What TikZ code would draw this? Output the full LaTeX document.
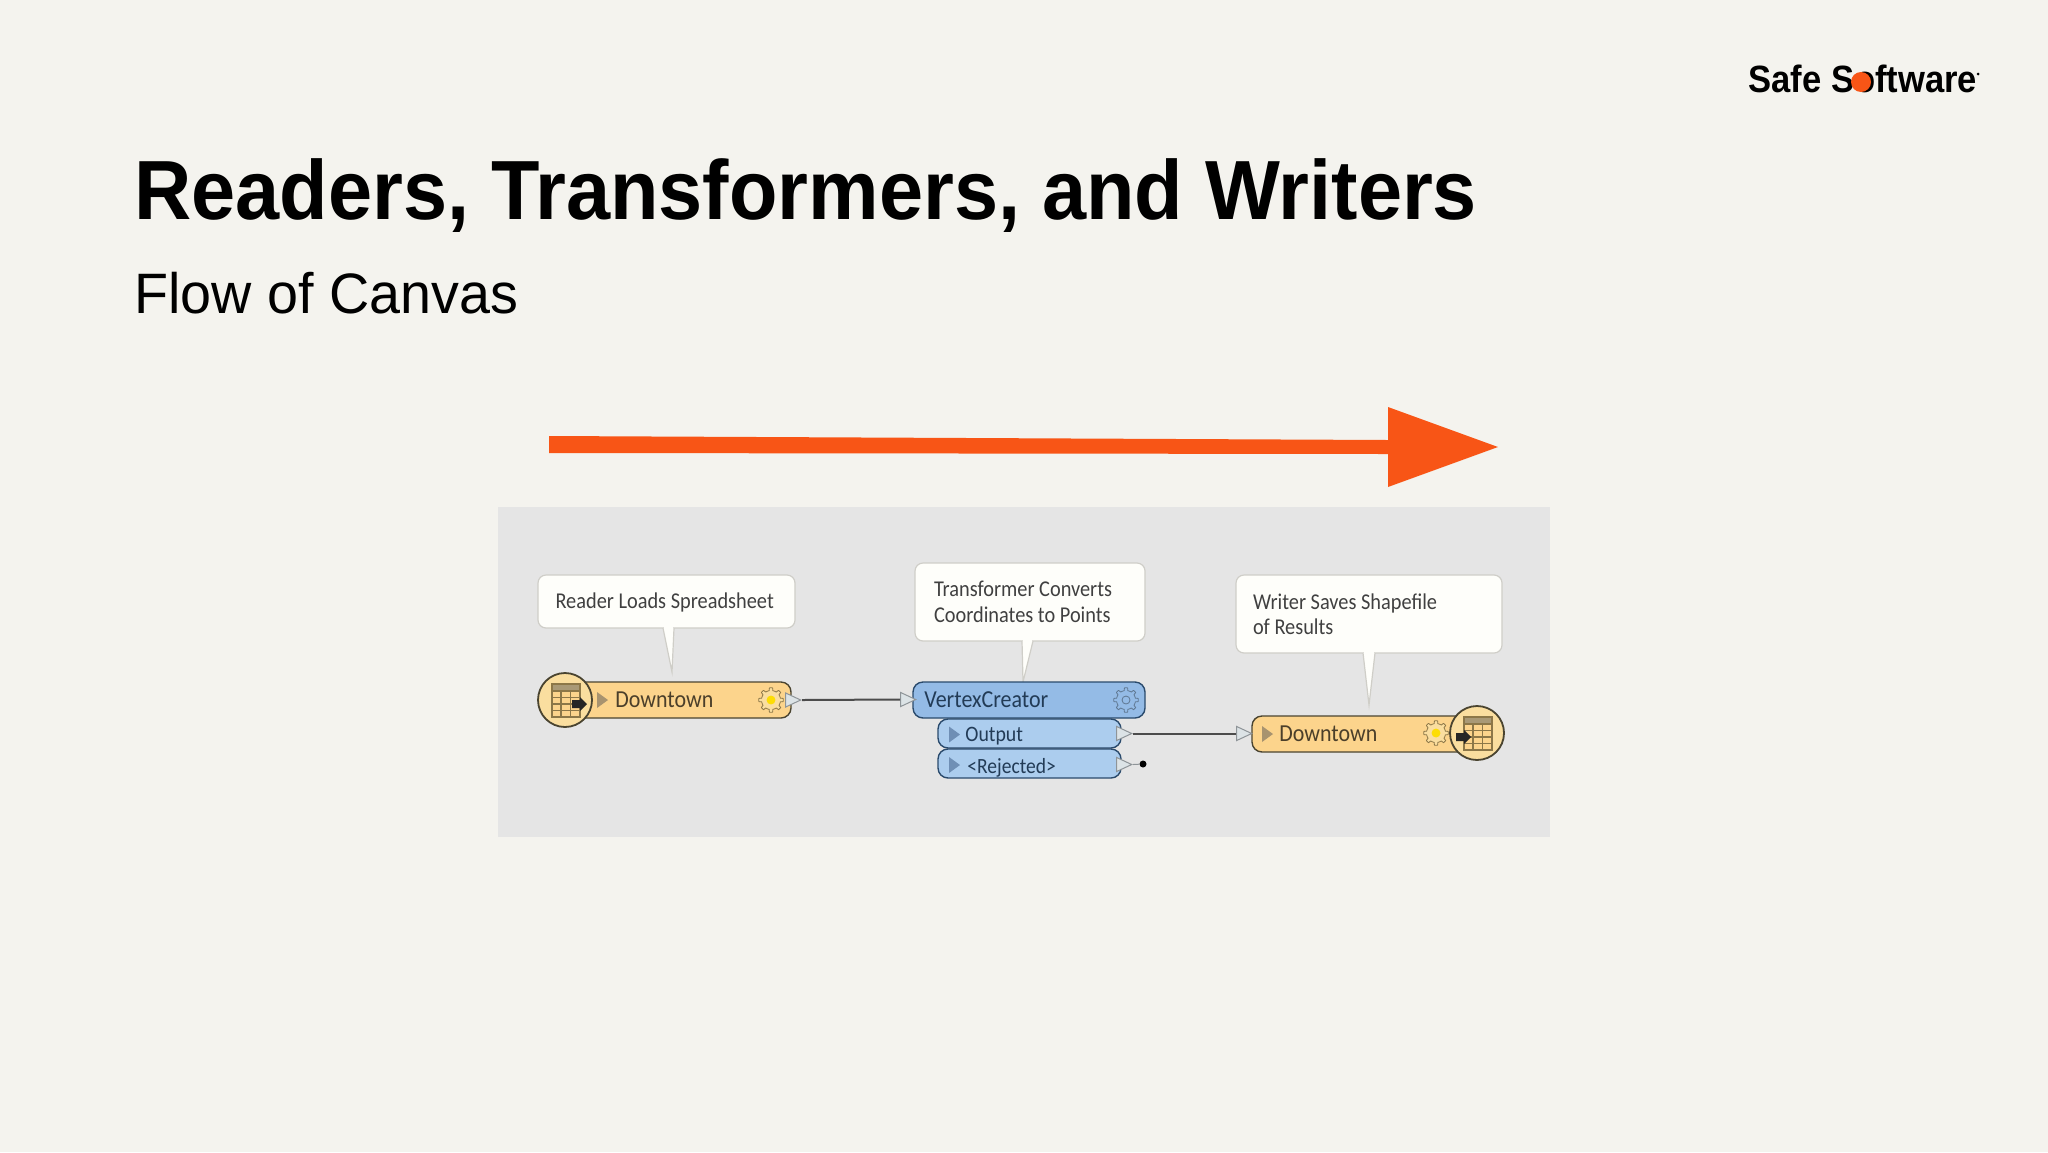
\documentclass[tikz,border=0pt]{standalone}
\usepackage{fontspec}
\setmainfont{Liberation Sans}
\newfontfamily\uifont[FakeStretch=0.9]{Carlito}
\usetikzlibrary{shapes.geometric,shapes.misc}
\definecolor{pagebg}{HTML}{F4F3EE}
\definecolor{panelbg}{HTML}{E5E5E5}
\definecolor{flow}{HTML}{F85516}
\definecolor{notefill}{HTML}{FEFEFA}
\definecolor{noteline}{HTML}{CFCEC8}
\definecolor{tan}{HTML}{FCD48C}
\definecolor{tanlight}{HTML}{FADE9F}
\definecolor{tanline}{HTML}{4A4430}
\definecolor{blue}{HTML}{94BBE6}
\definecolor{bluelight}{HTML}{ACCDEE}
\definecolor{blueline}{HTML}{2A4A6C}
\definecolor{icon}{HTML}{8C7748}
\definecolor{tritan}{HTML}{A8936F}
\definecolor{triblue}{HTML}{6F8FB5}
\definecolor{portfill}{HTML}{DCE3E6}
\definecolor{portline}{HTML}{8E9498}
\tikzset{
  x=0.5pt,y=-0.5pt,
  titletext/.style={font=\fontsize{42}{48}\selectfont\bfseries,anchor=base west,inner sep=0,text=black},
  subtext/.style={font=\fontsize{28.5}{34}\selectfont,anchor=base west,inner sep=0,text=black},
  logotext/.style={font=\fontsize{19}{22}\selectfont\bfseries,anchor=base west,inner sep=0,text=black},
  notebox/.style={draw=noteline,line width=0.6pt,fill=notefill,rounded corners=4pt,inner sep=0,
    font=\uifont\fontsize{11.3}{12.75}\selectfont,align=flush left,text=black!75},
  notetip/.style={draw=noteline,line width=0.6pt,fill=notefill},
  tanbody/.style={draw=tanline,line width=0.7pt,fill=tan,rounded corners=5pt,minimum height=18pt,inner sep=0},
  bluebody/.style={draw=blueline,line width=0.7pt,fill=blue,rounded corners=5pt,minimum height=18pt,inner sep=0},
  subbody/.style={draw=blueline,line width=0.7pt,fill=bluelight,rounded corners=5pt,minimum height=14.5pt,inner sep=0},
  badge/.style={circle,draw=tanline,line width=0.9pt,fill=tanlight,minimum size=27pt,inner sep=0},
  label/.style={inner sep=0,anchor=mid west,font=\uifont\fontsize{12.2}{14}\selectfont},
  port/.style={isosceles triangle,isosceles triangle stretches,draw=portline,fill=portfill,line width=0.5pt,
    minimum width=7pt,minimum height=7.5pt,inner sep=0,shape border rotate=0},
  wire/.style={draw=black!70,line width=1pt},
}
\newcommand{\gearicon}[6]{%
  \begin{scope}[shift={(#1,#2)}]
    \draw[draw=#4,fill=#3,line width=0.4pt,line join=round]
      plot[domain=0:360,samples=97] (\x:{9.5+2.7*(cos(8*\x)>0)}) -- cycle;
    \draw[draw=#6,fill=#5,line width=0.4pt] (0,0) circle[radius=4];
  \end{scope}}
\newcommand{\playtri}[3]{\fill[#3] (#1,#2-8) -- (#1+11,#2) -- (#1,#2+8) -- cycle;}
\newcommand{\tableicon}[2]{%
  \begin{scope}[shift={(#1,#2)}]
    \fill[tan] (0,0) rectangle (28,33);
    \fill[icon!75] (0,0) rectangle (28,7);
    \draw[icon,line width=0.8pt] (0,0) rectangle (28,33);
    \foreach \r in {7,13.5,20,26.5} {\draw[icon,line width=0.7pt] (0,\r) -- (28,\r);}
    \foreach \c in {9,18.5} {\draw[icon,line width=0.7pt] (\c,7) -- (\c,33);}
  \end{scope}}
\newcommand{\blockarrow}[2]{%
  \fill[black!85] (#1,#2-4) -- (#1+8,#2-4) -- (#1+8,#2-7) -- (#1+15,#2) -- (#1+8,#2+7) -- (#1+8,#2+4) -- (#1,#2+4) -- cycle;}
\begin{document}
\begin{tikzpicture}
\useasboundingbox (0,0) rectangle (2048,1152);
\fill[pagebg] (0,0) rectangle (2048,1152);

% headings
\node[titletext] (title) at (134,219) {\scalebox{0.944}[1]{Readers, Transformers, and Writers}};
\node[subtext] (subtitle) at (134,313) {\scalebox{0.977}[1]{Flow of Canvas}};
\node[logotext] (logo) at (1748,92) {\scalebox{0.91}[1]{Safe Software}};
\fill[flow] (1861,82) circle[radius=10];
\fill[black] (1978,74) circle[radius=1.5];

% flow arrow
\fill[flow] (549,436) -- (1388,440) -- (1388,407) -- (1498,447) -- (1388,487) -- (1388,454) -- (549,453) -- cycle;

% canvas panel
\fill[panelbg] (498,507) rectangle (1550,837);

% annotations
\node[notebox,minimum width=128.5pt,minimum height=26.5pt,text width=111pt] (noteR) at (666.5,601.5) {\raisebox{-3.5pt}[0pt][0pt]{Reader Loads Spreadsheet}};
\node[notebox,minimum width=115pt,minimum height=39pt,text width=96pt] (noteT) at (1030,602) {Transformer Converts\\Coordinates to Points};
\node[notebox,minimum width=133pt,minimum height=39pt,text width=116pt] (noteW) at (1369,614) {Writer Saves Shapefile\\of Results};
\draw[notetip] (663,628) -- (672,672) -- (674,628);
\fill[notefill] (664,626) rectangle (673,629);
\draw[notetip] (1022,641) -- (1023,682) -- (1033,641);
\fill[notefill] (1023,639) rectangle (1032,642);
\draw[notetip] (1363,653) -- (1369,705) -- (1375,653);
\fill[notefill] (1364,651) rectangle (1374,654);

% bodies
\node[tanbody,minimum width=113pt] (readerbody) at (678,700) {};
\node[bluebody,minimum width=116pt] (vertex) at (1029,700) {};
\node[subbody,minimum width=91.5pt] (output) at (1029.5,733.5) {};
\node[subbody,minimum width=91.5pt] (rejected) at (1029.5,763.5) {};
\node[tanbody,minimum width=112pt] (writerbody) at (1364,734) {};
\node[badge] (readerbadge) at (565,700) {};
\node[badge] (writerbadge) at (1477,733) {};

% icons
\tableicon{552}{684}
\blockarrow{572}{704}
\tableicon{1464}{717}
\blockarrow{1456}{737}
\playtri{597}{700}{tritan}
\playtri{1262}{734}{tritan}
\playtri{949}{734.5}{triblue}
\playtri{949}{765}{triblue}
\gearicon{771}{700}{tanlight}{icon}{yellow!80!orange}{yellow!80!orange}
\gearicon{1436}{733}{tanlight}{icon}{yellow!80!orange}{yellow!80!orange}
\gearicon{1126}{700}{blue}{blueline!75}{blue}{blueline!75}

% ports
\node[port,anchor=apex] (rout) at (802,700) {};
\node[port,anchor=apex] (vin) at (917,699.5) {};
\node[port,anchor=apex] (oout) at (1133,733.5) {};
\node[port,anchor=apex] (rjout) at (1133,764.5) {};
\node[port,anchor=apex] (win) at (1253,733.5) {};
\node[circle,fill=black,minimum size=3.5pt,inner sep=0] (rjdot) at (1143,764) {};
\draw[wire] (rout.apex) -- (vin.lower side);
\draw[wire] (oout.apex) -- (win.lower side);
\draw[draw=portline,line width=0.5pt] (rjout.apex) -- (rjdot);

% labels
\node[label,text=black!70!tan] (lblR) at (615,702) {Downtown};
\node[label,text=blueline!80!black] (lblV) at (924,702) {VertexCreator};
\node[label,text=blueline!80!black,font=\uifont\fontsize{11}{12}\selectfont] (lblO) at (965,736) {Output};
\node[label,text=blueline!80!black,font=\uifont\fontsize{10.85}{12}\selectfont] (lblJ) at (967,768) {<Rejected>};
\node[label,text=black!70!tan] (lblW) at (1279,736) {Downtown};
\end{tikzpicture}
\end{document}
